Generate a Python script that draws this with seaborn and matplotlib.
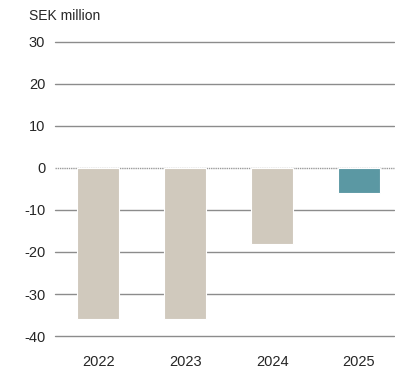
import matplotlib
matplotlib.use("Agg")
import matplotlib.pyplot as plt
import seaborn as sns
import pandas as pd

years = ["2022", "2023", "2024", "2025"]
values = [-36, -36, -18, -6]
bar_colors = ["#d0c9bd", "#d0c9bd", "#d0c9bd", "#5b98a3"]
y_ticks = [30, 20, 10, 0, -10, -20, -30, -40]

sns.set_style("white")
plt.rcParams["font.family"] = ["Liberation Sans", "DejaVu Sans"]

df = pd.DataFrame({"year": years, "value": values})

fig = plt.figure(figsize=(3.95, 3.71), dpi=100)
ax = fig.add_axes([0.139, 0.0943, 0.858, 0.7927])

# horizontal reference lines behind the bars
for t in y_ticks:
    if t == 0:
        ax.axhline(t, color="#9a9a9a", lw=1.0, ls=(0, (1, 0.6)), zorder=0,
                   clip_on=False)
    else:
        ax.axhline(t, color="#8c8c8c", lw=1.0, zorder=0, clip_on=False)

sns.barplot(data=df, x="year", y="value", hue="year", palette=bar_colors,
            saturation=1, legend=False, width=0.48, ax=ax, edgecolor="white",
            linewidth=0.8, zorder=2)

ax.set_ylim(-40, 30)
ax.set_xlim(-0.5, 3.4)
ax.set_yticks(y_ticks)
ax.set_yticklabels([str(t) for t in y_ticks])
ax.set_xlabel("")
ax.set_ylabel("")
for s in ax.spines.values():
    s.set_visible(False)
ax.tick_params(axis="y", length=0, pad=7, labelsize=10.5, labelcolor="#262626")
ax.tick_params(axis="x", length=0, pad=14, labelsize=10.5, labelcolor="#262626")

fig.text(29 / 395, 1 - 16 / 371, "SEK million", fontsize=10, color="#262626",
         ha="left", va="center")

fig.savefig("out.png", dpi=100)
